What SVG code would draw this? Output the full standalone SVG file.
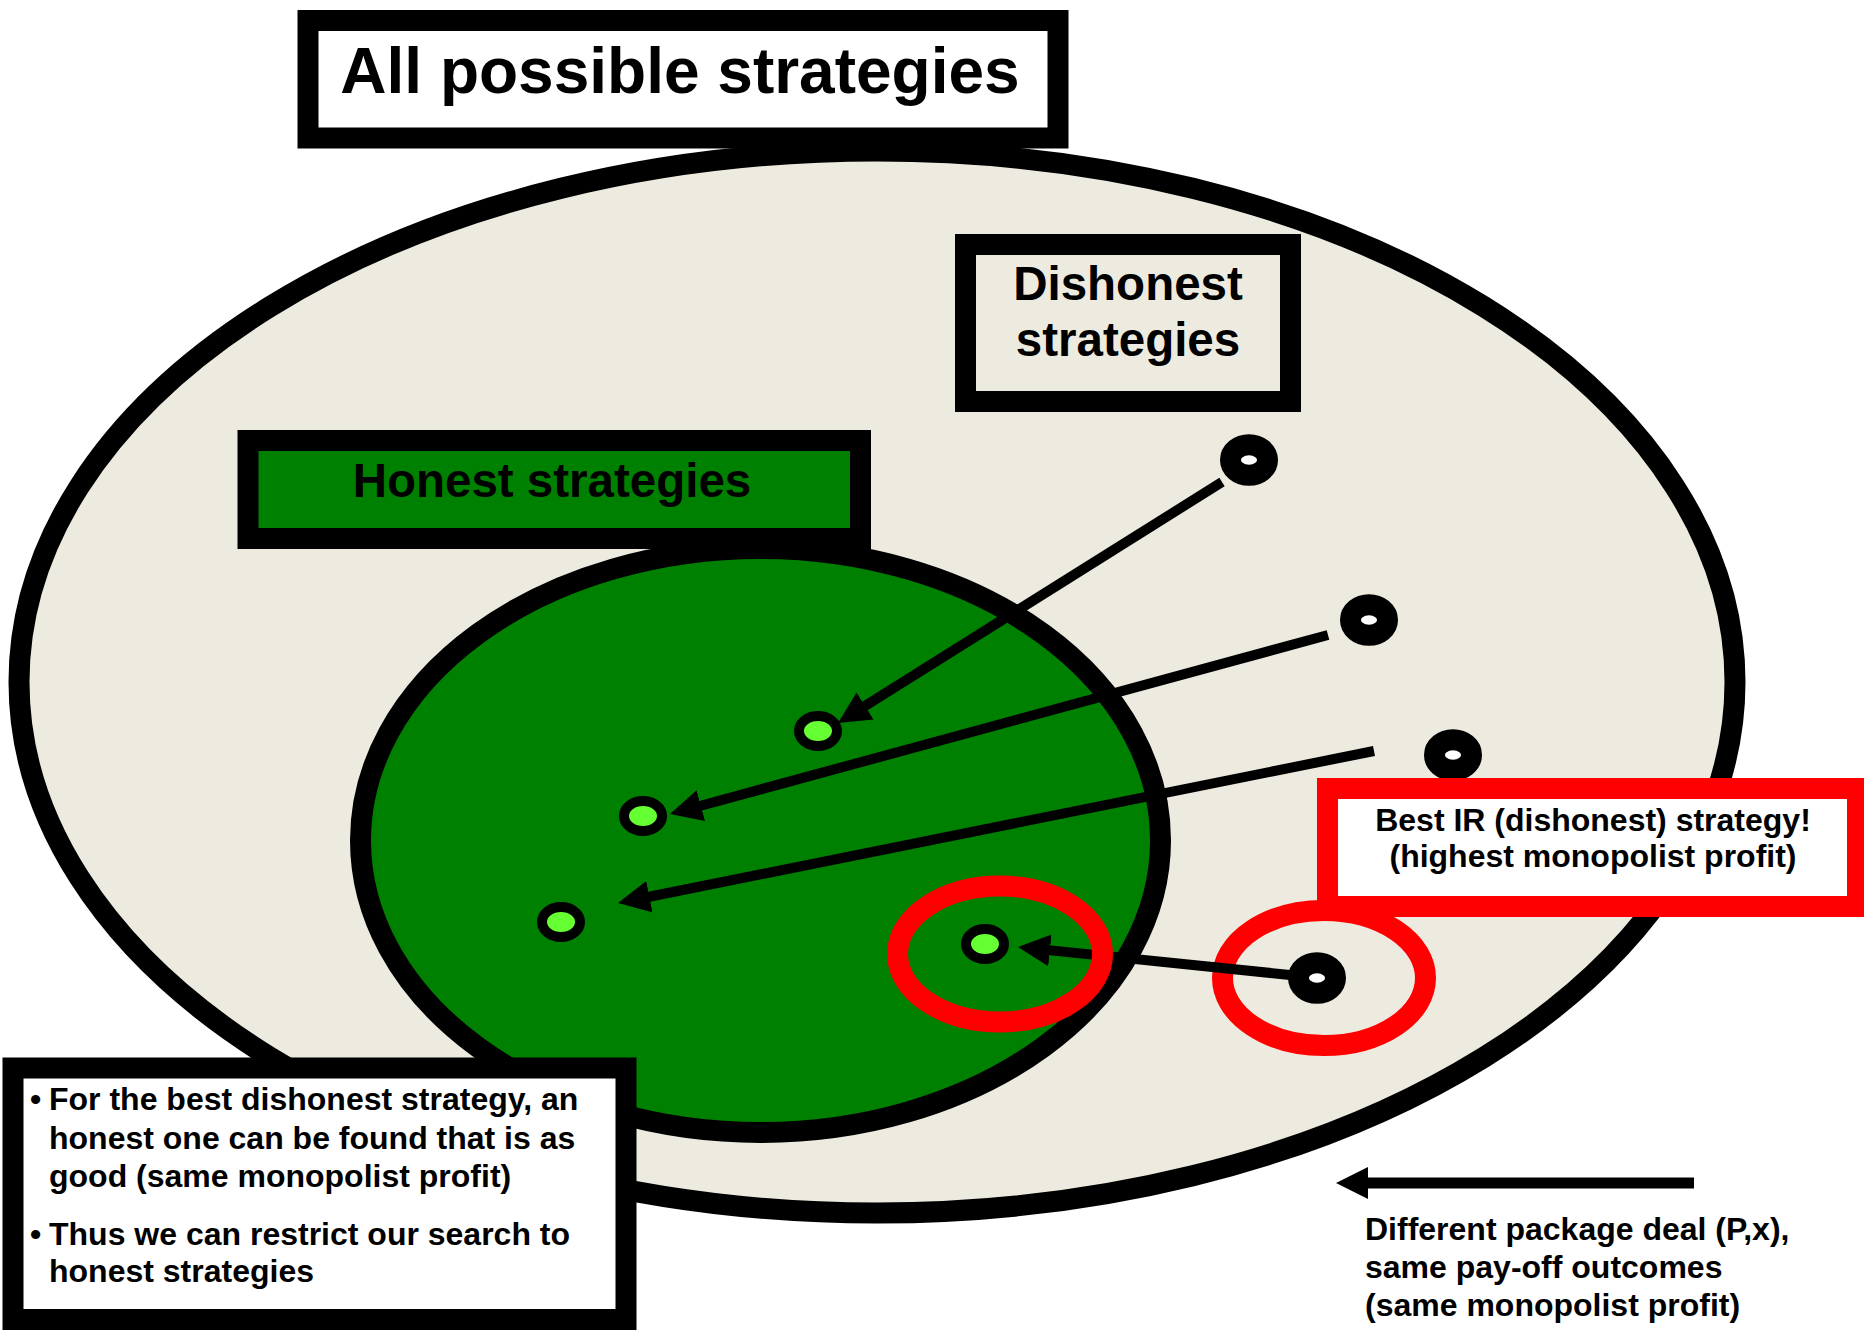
<svg xmlns="http://www.w3.org/2000/svg" width="1864" height="1332" viewBox="0 0 1864 1332">
  <style>
    text { font-family: "Liberation Sans", Arial, sans-serif; font-weight: bold; fill: #000; }
    .box { stroke: #000; stroke-width: 21; }
    .ring { stroke: #000; stroke-width: 21; }
    .hl { fill: none; stroke: #FF0000; stroke-width: 21; }
    .gdot { fill: #66FF33; stroke: #000; stroke-width: 10; }
    .bdot { fill: #FFFFFF; stroke: #000; stroke-width: 21; }
    .conn { fill: none; stroke: #000; stroke-width: 10; marker-end: url(#head); }
    .t47 { font-size: 47.5px; text-anchor: middle; }
    .t32 { font-size: 32px; }
  </style>
  <defs>
    <marker id="head" markerUnits="userSpaceOnUse" viewBox="0 0 32 32" markerWidth="32" markerHeight="32" refX="4" refY="16" orient="auto">
      <path d="M0,0 L32,16 L0,32 Z" fill="#000"/>
    </marker>
    <marker id="head2" markerUnits="userSpaceOnUse" viewBox="0 0 32 32" markerWidth="32" markerHeight="32" refX="4" refY="16" orient="auto">
      <path d="M0,0 L32,16 L0,32 Z" fill="#000"/>
    </marker>
  </defs>
  <rect width="1864" height="1332" fill="#FFFFFF"/>

  <g id="all-strategies">
    <ellipse class="ring" cx="877" cy="682" rx="858" ry="531" fill="#EDEBE0" stroke-width="20"/>
    <rect class="box" x="308" y="20.5" width="750" height="117.5" fill="#FFFFFF"/>
    <text x="680" y="93" font-size="64" text-anchor="middle">All possible strategies</text>
  </g>

  <g id="dishonest-label">
    <rect class="box" x="965.5" y="244.5" width="325" height="157" fill="#EDEBE0"/>
    <text class="t47" x="1128" y="300">Dishonest</text>
    <text class="t47" x="1128" y="356">strategies</text>
  </g>

  <g id="honest-strategies">
    <ellipse class="ring" cx="760.5" cy="840.5" rx="400" ry="292" fill="#008000"/>
    <rect class="box" x="248" y="440.5" width="612.5" height="98" fill="#008000"/>
    <text class="t47" x="552" y="497">Honest strategies</text>
  </g>

  <g id="dishonest-1"><ellipse class="bdot" cx="1249" cy="460" rx="18.5" ry="15.3"/></g>
  <g id="dishonest-2"><ellipse class="bdot" cx="1369" cy="620" rx="18.5" ry="15.3"/></g>
  <g id="dishonest-3"><ellipse class="bdot" cx="1453" cy="755" rx="18.5" ry="15.3"/></g>
  <g id="dishonest-4"><ellipse class="bdot" cx="1317" cy="978" rx="18.5" ry="15.3"/></g>

  <g id="honest-1"><ellipse class="gdot" cx="818" cy="731" rx="19" ry="15"/></g>
  <g id="honest-2"><ellipse class="gdot" cx="643" cy="816" rx="19" ry="15"/></g>
  <g id="honest-3"><ellipse class="gdot" cx="561" cy="922" rx="19" ry="15"/></g>
  <g id="honest-4"><ellipse class="gdot" cx="985" cy="944" rx="19" ry="15"/></g>

  <g id="highlight-dishonest">
    <ellipse class="hl" cx="1324" cy="978" rx="101.5" ry="67.5"/>
  </g>

  <g id="connectors">
    <path class="conn" d="M1222,482 L861.7,708.1"/>
    <path class="conn" d="M1328,635 L697,806.7"/>
    <path class="conn" d="M1374,751 L645.5,897.5"/>
    <path class="conn" d="M1290,975 L1045.9,949.9"/>
  </g>

  <g id="highlight-honest">
    <ellipse class="hl" cx="1000" cy="954" rx="102.5" ry="68"/>
  </g>

  <g id="best-ir-label">
    <rect x="1327.5" y="788.5" width="530" height="118" fill="#FFFFFF" stroke="#FF0000" stroke-width="21"/>
    <text class="t32" x="1593" y="831" text-anchor="middle">Best IR (dishonest) strategy!</text>
    <text class="t32" x="1593" y="867" text-anchor="middle">(highest monopolist profit)</text>
  </g>

  <g id="note">
    <rect class="box" x="13" y="1068" width="613" height="251.5" fill="#FFFFFF"/>
    <text class="t32" x="30" y="1110">•</text>
    <text class="t32" x="49" y="1110">For the best dishonest strategy, an</text>
    <text class="t32" x="49" y="1149">honest one can be found that is as</text>
    <text class="t32" x="49" y="1187">good (same monopolist profit)</text>
    <text class="t32" x="30" y="1245">•</text>
    <text class="t32" x="49" y="1245">Thus we can restrict our search to</text>
    <text class="t32" x="49" y="1282">honest strategies</text>
  </g>

  <g id="legend">
    <path d="M1694,1183 L1364,1183" fill="none" stroke="#000" stroke-width="11" marker-end="url(#head2)"/>
    <text class="t32" x="1365" y="1240">Different package deal (P,x),</text>
    <text class="t32" x="1365" y="1278">same pay-off outcomes</text>
    <text class="t32" x="1365" y="1316">(same monopolist profit)</text>
  </g>
</svg>
